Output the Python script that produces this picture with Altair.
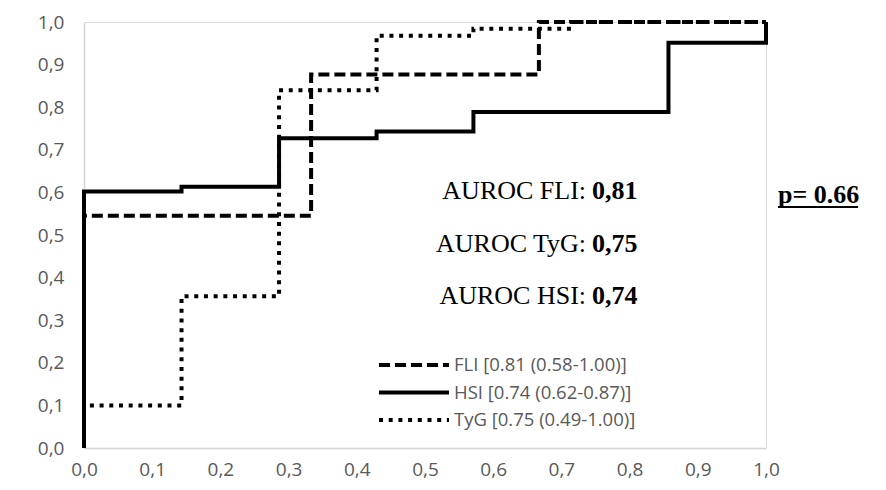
import altair as alt
import pandas as pd

# ---- data ----
series_names = ["FLI [0.81 (0.58-1.00)]", "HSI [0.74 (0.62-0.87)]", "TyG [0.75 (0.49-1.00)]"]

fli_fpr = [0, 0, 0.333, 0.667, 1.0]
fli_tpr = [0, 0.545, 0.877, 1.0, 1.0]

hsi_fpr = [0, 0, 0.143, 0.286, 0.429, 0.571, 0.857, 1.0]
hsi_tpr = [0, 0.602, 0.613, 0.727, 0.743, 0.789, 0.951, 1.0]

tyg_fpr = [0, 0, 0.143, 0.286, 0.429, 0.571, 0.714, 1.0]
tyg_tpr = [0, 0.100, 0.356, 0.840, 0.968, 0.984, 1.0, 1.0]

anno_labels = ["AUROC FLI:", "AUROC TyG:", "AUROC HSI:"]
anno_values = ["0,81", "0,75", "0,74"]
p_label = "p= 0.66"

tick_values = [round(i * 0.1, 1) for i in range(11)]

# ---- build tables ----
rows = []
for name, xs, ys in [(series_names[0], fli_fpr, fli_tpr),
                     (series_names[1], hsi_fpr, hsi_tpr),
                     (series_names[2], tyg_fpr, tyg_tpr)]:
    for i, (x, y) in enumerate(zip(xs, ys)):
        rows.append({"series": name, "fpr": x, "tpr": y, "idx": i})
df = pd.DataFrame(rows)

# annotation placement (layout, in data units)
anno_x = 0.745
anno_y = [0.584, 0.460, 0.338]
anno_df = pd.DataFrame({"label": anno_labels, "value": anno_values, "x": [anno_x] * 3, "y": anno_y})
p_df = pd.DataFrame({"label": [p_label], "x": [1.0176], "y": [0.575], "x2": [1.135], "uy": [0.566]})

label_expr = "replace(format(datum.value, '.1f'), '.', ',')"
axis_common = dict(
    values=tick_values, labelExpr=label_expr, grid=False, ticks=False, labelFlush=False,
    domainColor="#d4d4d4", domainWidth=1.5, labelColor="#595959",
    labelFont="Open Sans", labelFontSize=19, title=None,
)

x_scale = alt.Scale(domain=[0, 1], nice=False)
y_scale = alt.Scale(domain=[0, 1], nice=False)

lines = alt.Chart(df).mark_line(
    interpolate="step-after", color="black", strokeWidth=4, strokeCap="butt", strokeJoin="miter"
).encode(
    x=alt.X("fpr:Q", scale=x_scale, axis=alt.Axis(labelPadding=12, **axis_common)),
    y=alt.Y("tpr:Q", scale=y_scale, axis=alt.Axis(labelPadding=20, **axis_common)),
    order="idx:Q",
    strokeDash=alt.StrokeDash(
        "series:N",
        scale=alt.Scale(domain=series_names, range=[[11, 5], [1, 0], [4, 5.7]]),
        legend=alt.Legend(
            title=None, orient="none", legendX=293, legendY=333,
            symbolType="stroke", symbolSize=4900, symbolStrokeWidth=4,
            symbolStrokeColor="black", clipHeight=20, rowPadding=7.5,
            labelFont="Open Sans", labelFontSize=18.5, labelColor="#595959",
            labelOffset=3, padding=0, labelLimit=400,
        ),
    ),
)

anno_normal = alt.Chart(anno_df).mark_text(
    align="right", baseline="alphabetic", font="Liberation Serif", fontSize=26, color="black", dx=-6
).encode(x=alt.X("x:Q", scale=x_scale), y=alt.Y("y:Q", scale=y_scale), text="label:N")

anno_bold = alt.Chart(anno_df).mark_text(
    align="left", baseline="alphabetic", font="Liberation Serif", fontSize=26, fontWeight="bold", color="black"
).encode(x=alt.X("x:Q", scale=x_scale), y=alt.Y("y:Q", scale=y_scale), text="value:N")

p_text = alt.Chart(p_df).mark_text(
    align="left", baseline="alphabetic", font="Liberation Serif", fontSize=26, fontWeight="bold", color="black"
).encode(x=alt.X("x:Q", scale=x_scale), y=alt.Y("y:Q", scale=y_scale), text="label:N")

p_underline = alt.Chart(p_df).mark_rule(color="black", strokeWidth=2).encode(
    x=alt.X("x:Q", scale=x_scale), x2="x2:Q", y=alt.Y("uy:Q", scale=y_scale)
)

chart = alt.layer(lines, anno_normal, anno_bold, p_text, p_underline).properties(
    width=682, height=426,
    padding={"left": 76, "top": 14, "right": 100, "bottom": 34},
    autosize=alt.AutoSizeParams(type="none"),
).configure_view(stroke=None).configure(background="white")

chart.save("out.html", embed_options={"renderer": "svg", "actions": False})
